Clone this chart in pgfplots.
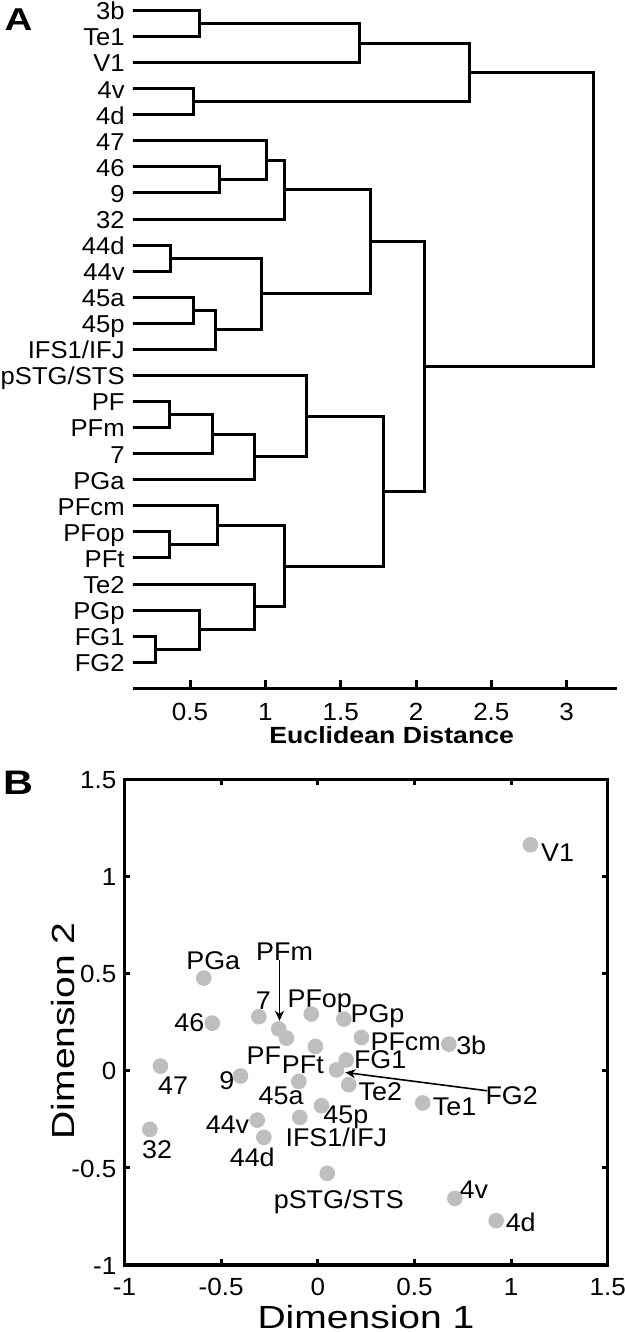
\documentclass[border=0pt]{standalone}
\usepackage{fontspec}
\setmainfont[FakeStretch=1.05]{Liberation Sans}
\newfontfamily\medfont[FakeStretch=1.14]{Liberation Sans}
\newfontfamily\widefont[FakeStretch=1.22]{Liberation Sans}
\usepackage{pgfplots}
\pgfplotsset{compat=1.18}
\usetikzlibrary{arrows.meta}
\definecolor{mk}{RGB}{190,190,190}
\newcommand{\lblfont}{\fontsize{12.8bp}{15bp}\selectfont}
\newcommand{\tkfont}{\fontsize{12.4bp}{15bp}\selectfont}
\begin{document}
\begin{tikzpicture}[
  lbl/.style={anchor=base, inner sep=0pt, yshift=-4.6bp, font=\lblfont},
  dl/.style={black, solid, line width=1.5bp, line join=miter, line cap=butt, mark=none}]
\useasboundingbox (0bp,0bp) rectangle (312.5bp,-666bp);
% ---------------- Panel A: dendrogram ----------------
\begin{axis}[
  at={(66.5bp,-344.15bp)}, anchor=south west, scale only axis,
  width=241.85bp, height=344.15bp,
  xmin=0.1217, xmax=3.3318, ymin=0, ymax=26.4,
  axis x line*=bottom, axis y line*=left,
  y axis line style={draw=none},
  x axis line style={line width=1.5bp,-},
  tick align=inside, major tick length=4bp,
  xtick={0.5,1,1.5,2,2.5,3}, xticklabels={0.5,1,1.5,2,2.5,3},
  xtick style={line width=1.5bp,black},
  ytick={1,...,26},
  yticklabels={FG2,FG1,PGp,Te2,PFt,PFop,PFcm,PGa,7,PFm,PF,pSTG/STS,IFS1/IFJ,45p,45a,44v,44d,32,9,46,47,4d,4v,V1,Te1,3b},
  ytick style={draw=none},
  yticklabel style={anchor=base east, inner sep=0pt, xshift=-4bp, yshift=-4.7bp, font=\fontsize{12.2bp}{15bp}\selectfont},
  xticklabel style={anchor=base, inner sep=0pt, yshift=-15.85bp, font=\tkfont},
]
% leaves at 0, merge heights from the picture
\addplot[dl] coordinates {(0,26) (0.566,26) (0.566,25) (0,25)};
\addplot[dl] coordinates {(0.566,25.5) (1.626,25.5) (1.626,24) (0,24)};
\addplot[dl] coordinates {(0,23) (0.522,23) (0.522,22) (0,22)};
\addplot[dl] coordinates {(1.626,24.75) (2.352,24.75) (2.352,22.5) (0.522,22.5)};
\addplot[dl] coordinates {(0,20) (0.699,20) (0.699,19) (0,19)};
\addplot[dl] coordinates {(0,21) (1.009,21) (1.009,19.5) (0.699,19.5)};
\addplot[dl] coordinates {(1.009,20.25) (1.124,20.25) (1.124,18) (0,18)};
\addplot[dl] coordinates {(0,17) (0.372,17) (0.372,16) (0,16)};
\addplot[dl] coordinates {(0,15) (0.522,15) (0.522,14) (0,14)};
\addplot[dl] coordinates {(0.522,14.5) (0.666,14.5) (0.666,13) (0,13)};
\addplot[dl] coordinates {(0.372,16.5) (0.976,16.5) (0.976,13.75) (0.666,13.75)};
\addplot[dl] coordinates {(1.124,19.125) (1.698,19.125) (1.698,15.125) (0.976,15.125)};
\addplot[dl] coordinates {(0,11) (0.361,11) (0.361,10) (0,10)};
\addplot[dl] coordinates {(0.361,10.5) (0.651,10.5) (0.651,9) (0,9)};
\addplot[dl] coordinates {(0.651,9.75) (0.931,9.75) (0.931,8) (0,8)};
\addplot[dl] coordinates {(0,12) (1.270,12) (1.270,8.875) (0.931,8.875)};
\addplot[dl] coordinates {(0,6) (0.361,6) (0.361,5) (0,5)};
\addplot[dl] coordinates {(0,7) (0.681,7) (0.681,5.5) (0.361,5.5)};
\addplot[dl] coordinates {(0,2) (0.268,2) (0.268,1) (0,1)};
\addplot[dl] coordinates {(0,3) (0.566,3) (0.566,1.5) (0.268,1.5)};
\addplot[dl] coordinates {(0,4) (0.925,4) (0.925,2.25) (0.566,2.25)};
\addplot[dl] coordinates {(0.681,6.25) (1.126,6.25) (1.126,3.125) (0.925,3.125)};
\addplot[dl] coordinates {(1.270,10.4375) (1.782,10.4375) (1.782,4.6875) (1.126,4.6875)};
\addplot[dl] coordinates {(1.698,17.125) (2.054,17.125) (2.054,7.5625) (1.782,7.5625)};
\addplot[dl] coordinates {(2.352,23.625) (3.180,23.625) (3.180,12.34375) (2.054,12.34375)};
\end{axis}
% ---------------- Panel B: MDS ----------------
\begin{axis}[
  at={(62.25bp,-632.5bp)}, anchor=south west, scale only axis,
  width=241.6bp, height=242.85bp,
  xmin=-1, xmax=1.5, ymin=-1, ymax=1.5,
  axis line style={line width=1.6bp},
  tick align=inside, major tick length=2.8bp,
  tick style={line width=1.5bp,black},
  xtick={-1,-0.5,0,0.5,1,1.5}, xticklabels={-1,-0.5,0,0.5,1,1.5},
  ytick={-1,-0.5,0,0.5,1,1.5}, yticklabels={-1,-0.5,0,0.5,1,1.5},
  xticklabel style={anchor=base, inner sep=0pt, yshift=-15bp, font=\tkfont},
  yticklabel style={anchor=base east, inner sep=0pt, xshift=-3.9bp, yshift=-4.6bp, font=\tkfont},
  clip=false,
]
\addplot[only marks, mark=*, color=mk, mark size=3.7bp] table {
x y
-0.590 0.477
-0.546 0.245
-0.305 0.278
-0.202 0.215
-0.162 0.168
-0.034 0.292
0.135 0.266
0.226 0.171
-0.012 0.125
-0.814 0.024
-0.400 -0.027
0.147 0.055
0.097 0.004
-0.098 -0.055
0.160 -0.072
0.019 -0.180
-0.313 -0.254
-0.093 -0.240
-0.869 -0.302
-0.279 -0.343
0.049 -0.528
1.100 1.163
0.678 0.137
0.543 -0.166
0.709 -0.657
0.923 -0.772
};
\node[lbl] at (axis cs:-0.541,0.566) {PGa};
\node[lbl] at (axis cs:-0.664,0.249) {46};
\node[lbl] at (axis cs:-0.281,0.360) {7};
\node[lbl] at (axis cs:-0.172,0.614) {PFm};
\node[lbl] at (axis cs:0.010,0.372) {PFop};
\node[lbl] at (axis cs:0.309,0.295) {PGp};
\node[lbl] at (axis cs:0.455,0.154) {PFcm};
\node[lbl] at (axis cs:0.794,0.132) {3b};
\node[lbl] at (axis cs:1.241,1.124) {V1};
\node[lbl] at (axis cs:-0.279,0.077) {PF};
\node[lbl] at (axis cs:-0.077,0.031) {PFt};
\node[lbl] at (axis cs:0.323,0.060) {FG1};
\node[lbl] at (axis cs:1.003,-0.129) {FG2};
\node[lbl] at (axis cs:0.324,-0.106) {Te2};
\node[lbl] at (axis cs:0.708,-0.185) {Te1};
\node[lbl] at (axis cs:-0.749,-0.077) {47};
\node[lbl] at (axis cs:-0.471,-0.051) {9};
\node[lbl] at (axis cs:-0.190,-0.124) {45a};
\node[lbl] at (axis cs:0.145,-0.223) {45p};
\node[lbl] at (axis cs:-0.467,-0.274) {44v};
\node[lbl] at (axis cs:0.096,-0.343) {IFS1/IFJ};
\node[lbl] at (axis cs:-0.831,-0.403) {32};
\node[lbl] at (axis cs:-0.339,-0.446) {44d};
\node[lbl] at (axis cs:0.109,-0.660) {pSTG/STS};
\node[lbl] at (axis cs:0.807,-0.609) {4v};
\node[lbl] at (axis cs:1.050,-0.781) {4d};
\draw[line width=0.8bp, -{Stealth[length=5bp,width=4.5bp,inset=1.5bp]}] (axis cs:-0.198,0.570) -- (axis cs:-0.198,0.257);
\draw[line width=0.8bp, -{Stealth[length=5bp,width=4.5bp,inset=1.5bp]}] (axis cs:0.876,-0.103) -- (axis cs:0.143,-0.009);
\end{axis}
% ---------------- titles and axis labels ----------------
\node[anchor=center, inner sep=0pt, font=\widefont\fontsize{15.8bp}{18bp}\selectfont\bfseries] at (9.3bp,-9.6bp) {A};
\node[anchor=center, inner sep=0pt, font=\widefont\fontsize{17bp}{20bp}\selectfont\bfseries] at (9.1bp,-391.25bp) {B};
\node[anchor=center, inner sep=0pt, font=\medfont\fontsize{11.7bp}{14bp}\selectfont\bfseries] at (195.85bp,-367.5bp) {Euclidean Distance};
\node[anchor=base, inner sep=0pt, font=\widefont\fontsize{16bp}{19bp}\selectfont] at (183bp,-664bp) {Dimension 1};
\node[anchor=base, inner sep=0pt, rotate=90, font=\widefont\fontsize{16bp}{19bp}\selectfont] at (37.25bp,-515.4bp) {Dimension 2};
\end{tikzpicture}
\end{document}
